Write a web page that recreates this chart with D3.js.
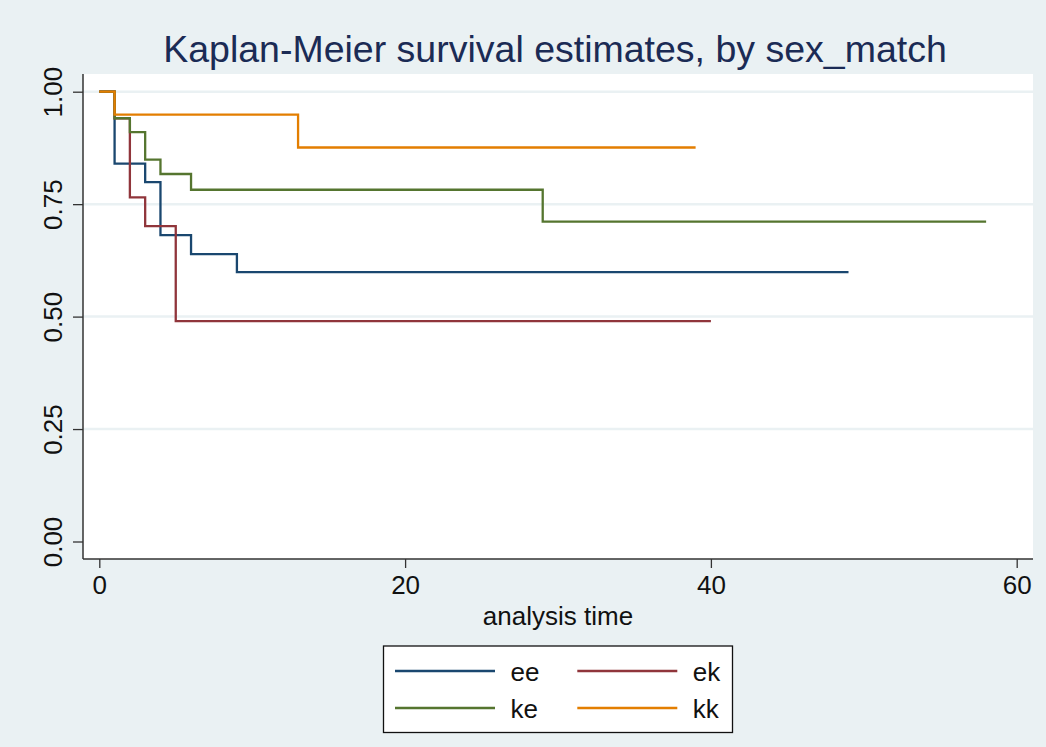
<!DOCTYPE html>
<html>
<head>
<meta charset="utf-8">
<script src="https://cdn.jsdelivr.net/npm/d3@7"></script>
<style>
	body { margin: 0; background: #eaf1f3; }
	text { font-family: 'Liberation Sans', Arial, sans-serif; }
</style>
</head>
<body>
<div id="chart"></div>
<script>
//data
const seriesNames = ['ee', 'ek', 'ke', 'kk'];
const eeTimes = [0, 1, 3, 4, 6, 9, 49];
const eeSurv = [1, 0.84, 0.799, 0.681, 0.639, 0.599, 0.599];
const ekTimes = [0, 1, 2, 3, 5, 40];
const ekSurv = [1, 0.941, 0.765, 0.701, 0.49, 0.49];
const keTimes = [0, 1, 2, 3, 4, 6, 29, 58];
const keSurv = [1, 0.941, 0.91, 0.849, 0.817, 0.782, 0.711, 0.711];
const kkTimes = [0, 1, 13, 39];
const kkSurv = [1, 0.949, 0.876, 0.876];
const xTicks = [0, 20, 40, 60];
const yTicks = [0, 0.25, 0.5, 0.75, 1];

const series = [
	{ name: 'ee', times: eeTimes, surv: eeSurv, color: '#1a476f' },
	{ name: 'ek', times: ekTimes, surv: ekSurv, color: '#90353b' },
	{ name: 'ke', times: keTimes, surv: keSurv, color: '#55752f' },
	{ name: 'kk', times: kkTimes, surv: kkSurv, color: '#e37e00' },
];

const width = 1046;
const height = 747;
const plot = { left: 83, right: 1033, top: 74, bottom: 559 };

const svg = d3
	.select('#chart')
	.append('svg')
	.attr('width', width)
	.attr('height', height);

svg.append('rect')
	.attr('width', width)
	.attr('height', height)
	.style('fill', '#eaf1f3');

svg.append('rect')
	.attr('x', plot.left)
	.attr('y', plot.top)
	.attr('width', plot.right - plot.left)
	.attr('height', plot.bottom - plot.top)
	.style('fill', '#fff');

const x = d3.scaleLinear().domain([0, 60]).range([99.3, 1016.7]);
const y = d3.scaleLinear().domain([0, 1]).range([541.5, 91.7]);

//grid
svg.selectAll('.grid')
	.data(yTicks.filter((d) => d > 0))
	.enter()
	.append('line')
	.attr('class', 'grid')
	.attr('x1', plot.left)
	.attr('x2', plot.right)
	.attr('y1', (d) => y(d))
	.attr('y2', (d) => y(d))
	.style('stroke', '#eaf1f3')
	.style('stroke-width', 2.5);

//curves
const line = d3
	.line()
	.x((d) => x(d[0]))
	.y((d) => y(d[1]))
	.curve(d3.curveStepAfter);

svg.selectAll('.km')
	.data(series)
	.enter()
	.append('path')
	.attr('class', 'km')
	.attr('d', (s) => line(s.times.map((t, i) => [t, s.surv[i]])))
	.style('fill', 'none')
	.style('stroke', (s) => s.color)
	.style('stroke-width', 2.3);

//axes
const xAxis = d3
	.axisBottom(x)
	.tickValues(xTicks)
	.tickSize(9)
	.tickPadding(5)
	.tickFormat(d3.format('d'));

const xg = svg.append('g').attr('transform', translation(0, plot.bottom)).call(xAxis);
xg.select('.domain').attr('d', `M${plot.left},0H${plot.right}`);

const yAxis = d3
	.axisLeft(y)
	.tickValues(yTicks)
	.tickSize(10)
	.tickFormat(d3.format('.2f'));

const yg = svg.append('g').attr('transform', translation(plot.left, 0)).call(yAxis);
yg.select('.domain').attr('d', `M0,${plot.top}V${plot.bottom}`);

[xg, yg].forEach((g) => {
	g.selectAll('.domain').style('stroke', '#333').style('stroke-width', 1.5);
	g.selectAll('.tick line').style('stroke', '#333').style('stroke-width', 1.3);
	g.selectAll('text').style('font-size', '26px').style('fill', '#111').style('font-family', "'Liberation Sans', Arial, sans-serif");
});

xg.selectAll('text').attr('y', 17).attr('dy', '0.71em');

yg.selectAll('text')
	.attr('x', null)
	.attr('dy', null)
	.attr('y', 0)
	.attr('transform', 'translate(-21,0) rotate(-90)')
	.style('text-anchor', 'middle');

//titles
svg.append('text')
	.attr('x', 555)
	.attr('y', 61.5)
	.style('text-anchor', 'middle')
	.style('font-size', '37.5px')
	.style('fill', '#1b2b55')
	.text('Kaplan-Meier survival estimates, by sex_match');

svg.append('text')
	.attr('x', 558)
	.attr('y', 625)
	.style('text-anchor', 'middle')
	.style('font-size', '26px')
	.style('fill', '#111')
	.text('analysis time');

//legend
const legend = svg.append('g').attr('transform', translation(383.5, 646));

legend.append('rect')
	.attr('width', 349)
	.attr('height', 86.5)
	.style('fill', '#fff')
	.style('stroke', '#111')
	.style('stroke-width', 1.3);

const items = legend
	.selectAll('.item')
	.data(series)
	.enter()
	.append('g')
	.attr('class', 'item')
	.attr('transform', (d, i) => translation(11.5 + (i % 2) * 182.3, 25 + Math.floor(i / 2) * 37));

items.append('line')
	.attr('x1', 0)
	.attr('x2', 100)
	.style('stroke', (d) => d.color)
	.style('stroke-width', 2.3);

items.append('text')
	.attr('x', 115.5)
	.attr('y', 9.7)
	.style('font-size', '26px')
	.style('fill', '#111')
	.text((d) => d.name);

//utils
function translation(x, y) {
	return `translate(${x}, ${y})`;
}
</script>
</body>
</html>
